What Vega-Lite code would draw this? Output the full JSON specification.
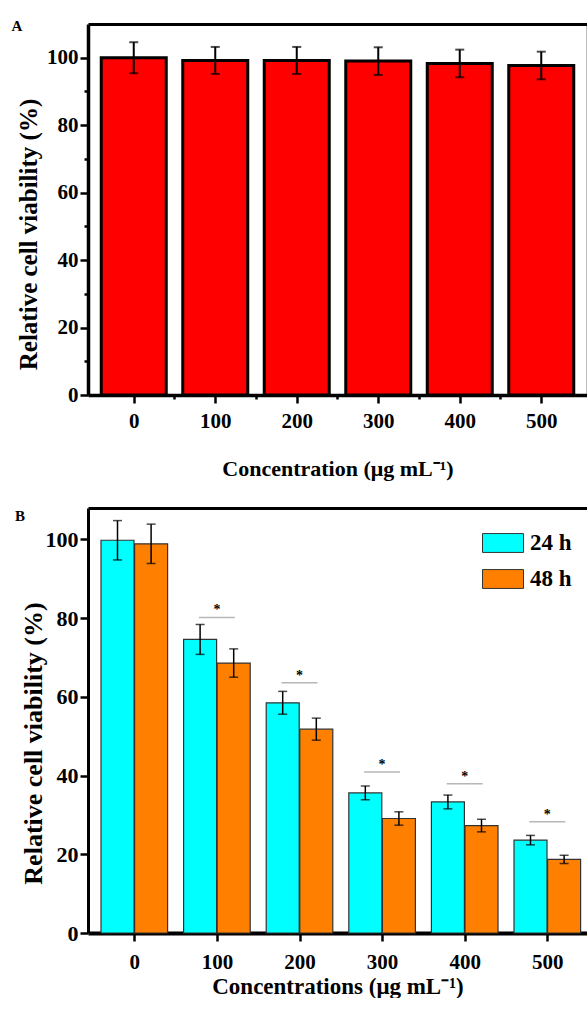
{
  "$schema": "https://vega.github.io/schema/vega-lite/v6.json",
  "padding": {"left": 11, "top": 19, "right": 0, "bottom": 0},
  "spacing": 29,
  "resolve": {"scale": {"color": "independent"}, "legend": {"color": "independent"}},
  "config": {
    "font": "Liberation Serif",
    "axis": {"labelFont": "Liberation Serif", "labelFontWeight": "bold", "titleFont": "Liberation Serif", "titleFontWeight": "bold", "labelColor": "black", "titleColor": "black", "domainColor": "black", "tickColor": "black", "grid": false, "labelOverlap": false, "labelFlush": false},
    "title": {"font": "Liberation Serif", "fontWeight": "bold", "color": "black"}
  },
  "datasets": {
    "a": [
      {"conc": 0, "viability": 100.0, "sd": 4.6},
      {"conc": 100, "viability": 99.2, "sd": 4.0},
      {"conc": 200, "viability": 99.2, "sd": 4.0},
      {"conc": 300, "viability": 99.0, "sd": 4.1},
      {"conc": 400, "viability": 98.3, "sd": 4.1},
      {"conc": 500, "viability": 97.7, "sd": 4.1}
    ],
    "b": [
      {"conc": 0, "time": "24 h", "viability": 99.8, "sd": 5.0},
      {"conc": 0, "time": "48 h", "viability": 98.9, "sd": 5.0},
      {"conc": 100, "time": "24 h", "viability": 74.6, "sd": 3.8},
      {"conc": 100, "time": "48 h", "viability": 68.6, "sd": 3.6},
      {"conc": 200, "time": "24 h", "viability": 58.5, "sd": 2.9},
      {"conc": 200, "time": "48 h", "viability": 51.8, "sd": 2.8},
      {"conc": 300, "time": "24 h", "viability": 35.6, "sd": 1.75},
      {"conc": 300, "time": "48 h", "viability": 29.1, "sd": 1.7},
      {"conc": 400, "time": "24 h", "viability": 33.3, "sd": 1.75},
      {"conc": 400, "time": "48 h", "viability": 27.3, "sd": 1.6},
      {"conc": 500, "time": "24 h", "viability": 23.6, "sd": 1.2},
      {"conc": 500, "time": "48 h", "viability": 18.7, "sd": 1.05}
    ],
    "sig": [
      {"conc": 100, "level": 80.2, "label": "*"},
      {"conc": 200, "level": 63.6, "label": "*"},
      {"conc": 300, "level": 40.9, "label": "*"},
      {"conc": 400, "level": 37.9, "label": "*"},
      {"conc": 500, "level": 28.3, "label": "*"}
    ]
  },
  "vconcat": [
    {
      "width": 499,
      "height": 371,
      "title": {"text": "A", "anchor": "start", "frame": "bounds", "fontSize": 15, "offset": -10, "dx": -5},
      "view": {"stroke": null},
      "data": {"name": "a"},
      "layer": [
        {
          "mark": {"type": "bar", "width": 65, "color": "#ff0000", "stroke": "black", "strokeWidth": 3},
          "encoding": {
            "x": {"field": "conc", "type": "quantitative", "scale": {"domain": [-50, 550], "nice": false},
              "axis": {"title": "Concentration (μg mL⁻¹)", "values": [0, 50, 100, 150, 200, 250, 300, 350, 400, 450, 500],
                "labelExpr": "datum.value % 100 === 0 ? datum.label : ''",
                "tickSize": {"condition": {"test": "datum.value % 100 === 0", "value": 8}, "value": 4},
                "tickWidth": 2.5, "domainWidth": 3.5, "labelFontSize": 21, "labelPadding": 7, "titleFontSize": 22, "titlePadding": 27}},
            "y": {"field": "viability", "type": "quantitative", "scale": {"domain": [0, 110], "nice": false},
              "axis": {"title": "Relative cell viability (%)", "values": [0, 10, 20, 30, 40, 50, 60, 70, 80, 90, 100],
                "labelExpr": "datum.value % 20 === 0 ? datum.label : ''",
                "tickSize": {"condition": {"test": "datum.value % 20 === 0", "value": 8}, "value": 4},
                "tickWidth": 2.5, "domainWidth": 3.5, "labelFontSize": 21, "labelPadding": 2, "titleFontSize": 25, "titlePadding": 5, "titleY": 210}}
          }
        },
        {
          "mark": {"type": "errorbar", "color": "black", "thickness": 2, "ticks": {"size": 9, "thickness": 2}},
          "encoding": {
            "x": {"field": "conc", "type": "quantitative", "axis": {"orient": "top", "title": null, "labels": false, "ticks": false, "domainWidth": 3}},
            "y": {"field": "viability", "type": "quantitative", "axis": {"orient": "right", "title": null, "labels": false, "ticks": false, "domainWidth": 1.5}},
            "yError": {"field": "sd"}
          }
        }
      ],
      "resolve": {"axis": {"x": "independent", "y": "independent"}}
    },
    {
      "width": 499,
      "height": 425,
      "title": {"text": "B", "anchor": "start", "frame": "bounds", "fontSize": 15, "offset": -16, "dx": -5},
      "view": {"stroke": null},
      "data": {"name": "b"},
      "layer": [
        {
          "transform": [{"filter": "datum.time === '24 h'"}],
          "mark": {"type": "bar", "width": 33, "xOffset": -16.8, "stroke": "#333333", "strokeWidth": 1.2},
          "encoding": {
            "x": {"field": "conc", "type": "quantitative", "scale": {"domain": [-50, 542], "nice": false},
              "axis": {"title": "Concentrations (μg mL⁻¹)", "values": [0, 100, 200, 300, 400, 500],
                "tickSize": 8, "tickWidth": 2.5, "domainWidth": 4, "labelFontSize": 21, "labelPadding": 10, "titleFontSize": 23, "titlePadding": 3}},
            "y": {"field": "viability", "type": "quantitative", "title": "Relative cell viability (%)", "scale": {"domain": [0, 108], "nice": false},
              "axis": {"values": [0, 20, 40, 60, 80, 100],
                "tickSize": 8, "tickWidth": 2.5, "domainWidth": 3, "labelFontSize": 22, "labelPadding": 2, "titleFontSize": 26, "titlePadding": -1, "titleY": 235}},
            "color": {"field": "time", "type": "nominal", "scale": {"domain": ["24 h", "48 h"], "range": ["#00ffff", "#ff8000"]},
              "legend": {"orient": "none", "legendX": 394, "legendY": 14, "title": null, "padding": 0,
                "symbolType": "M-1,-0.46H1V0.46H-1Z", "symbolSize": 1681, "symbolStrokeColor": "#333333", "symbolStrokeWidth": 1,
                "labelFont": "Liberation Serif", "labelFontSize": 23, "labelFontWeight": "bold", "labelColor": "black", "labelOffset": 6, "rowPadding": 3}}
          }
        },
        {
          "transform": [{"filter": "datum.time === '48 h'"}],
          "mark": {"type": "bar", "width": 33, "xOffset": 16.8, "stroke": "#333333", "strokeWidth": 1.2},
          "encoding": {
            "x": {"field": "conc", "type": "quantitative", "axis": null},
            "y": {"field": "viability", "type": "quantitative", "title": "Relative cell viability (%)"},
            "color": {"field": "time", "type": "nominal"}
          }
        },
        {
          "transform": [{"filter": "datum.time === '24 h'"}],
          "mark": {"type": "errorbar", "color": "black", "thickness": 1.5, "rule": {"xOffset": -16.8}, "ticks": {"size": 9, "thickness": 1.5, "xOffset": -16.8}},
          "encoding": {
            "x": {"field": "conc", "type": "quantitative", "axis": null},
            "y": {"field": "viability", "type": "quantitative", "title": "Relative cell viability (%)"},
            "yError": {"field": "sd"}
          }
        },
        {
          "transform": [{"filter": "datum.time === '48 h'"}],
          "mark": {"type": "errorbar", "color": "black", "thickness": 1.5, "rule": {"xOffset": 16.8}, "ticks": {"size": 9, "thickness": 1.5, "xOffset": 16.8}},
          "encoding": {
            "x": {"field": "conc", "type": "quantitative", "axis": null},
            "y": {"field": "viability", "type": "quantitative", "title": "Relative cell viability (%)"},
            "yError": {"field": "sd"}
          }
        },
        {
          "data": {"name": "sig"},
          "mark": {"type": "tick", "orient": "horizontal", "size": 36, "thickness": 1.5, "color": "#999999"},
          "encoding": {
            "x": {"field": "conc", "type": "quantitative", "axis": {"orient": "top", "title": null, "labels": false, "ticks": false, "domainWidth": 3}},
            "y": {"field": "level", "type": "quantitative", "title": "Relative cell viability (%)"}
          }
        },
        {
          "data": {"name": "sig"},
          "mark": {"type": "text", "fontSize": 14, "fontWeight": "bold", "color": "black", "baseline": "alphabetic", "dy": -3, "font": "Liberation Serif"},
          "encoding": {
            "x": {"field": "conc", "type": "quantitative", "axis": null},
            "y": {"field": "level", "type": "quantitative", "title": "Relative cell viability (%)"},
            "text": {"field": "label"}
          }
        }
      ],
      "resolve": {"axis": {"x": "independent"}}
    }
  ]
}
